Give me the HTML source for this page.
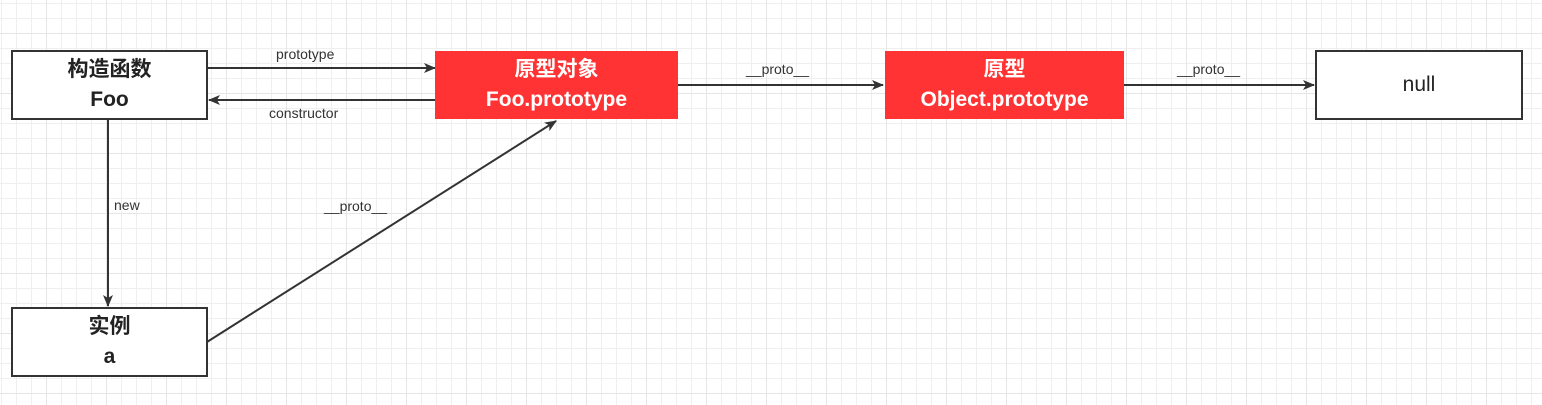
<!DOCTYPE html>
<html><head><meta charset="utf-8"><style>
body{margin:0;width:1542px;height:405px;overflow:hidden;background-color:#fff;
background-image:linear-gradient(#e6e6e6 1px,transparent 1px),linear-gradient(90deg,#e6e6e6 1px,transparent 1px),linear-gradient(#efefef 1px,transparent 1px),linear-gradient(90deg,#efefef 1px,transparent 1px);
background-size:60px 60px,60px 60px,15px 15px,15px 15px;
background-position:0 33px,46px 0,0 3px,1px 0;
font-family:"Liberation Sans","Noto Sans CJK SC",sans-serif;position:relative}
.b{position:absolute;box-sizing:border-box;display:flex;align-items:center;justify-content:center;text-align:center;font-size:21px;line-height:30px;color:#222}
.w{background:#fff;border:2px solid #333}
.r{background:#ff3333;color:#fff;font-weight:bold}
.l{position:absolute;font-size:14px;color:#333;background:transparent}
</style></head><body>
<svg width="1542" height="405" style="position:absolute;left:0;top:0">
<defs><marker id="a" markerWidth="12" markerHeight="10" refX="11" refY="5" orient="auto" markerUnits="userSpaceOnUse"><path d="M0,0L12,5L0,10L3,5z" fill="#333"/></marker></defs>
<g stroke="#333" stroke-width="2" fill="none">
<line x1="207" y1="68" x2="435" y2="68" marker-end="url(#a)"/>
<line x1="435" y1="100" x2="209" y2="100" marker-end="url(#a)"/>
<line x1="108" y1="119" x2="108" y2="306" marker-end="url(#a)"/>
<line x1="207" y1="342" x2="556" y2="121" marker-end="url(#a)"/>
<line x1="678" y1="85" x2="883" y2="85" marker-end="url(#a)"/>
<line x1="1124" y1="85" x2="1314" y2="85" marker-end="url(#a)"/>
</g></svg>
<div class="b w" style="left:11px;top:50px;width:197px;height:70px;font-weight:bold">构造函数<br>Foo</div>
<div class="b r" style="left:435px;top:51px;width:243px;height:68px">原型对象<br>Foo.prototype</div>
<div class="b r" style="left:885px;top:51px;width:239px;height:68px">原型<br>Object.prototype</div>
<div class="b w" style="left:1315px;top:50px;width:208px;height:70px">null</div>
<div class="b w" style="left:11px;top:307px;width:197px;height:70px;font-weight:bold">实例<br>a</div>
<div class="l" style="left:276px;top:46px">prototype</div>
<div class="l" style="left:269px;top:105px">constructor</div>
<div class="l" style="left:114px;top:197px">new</div>
<div class="l" style="left:324px;top:198px">__proto__</div>
<div class="l" style="left:746px;top:61px">__proto__</div>
<div class="l" style="left:1177px;top:61px">__proto__</div>
</body></html>
